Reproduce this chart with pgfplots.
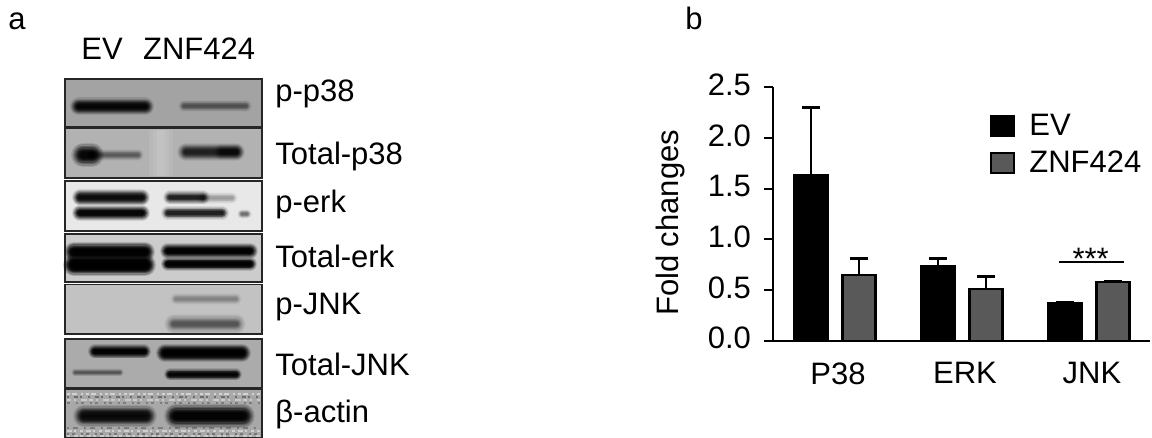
\documentclass[border=0pt]{standalone}
\usepackage{fontspec}
\setmainfont{Liberation Sans}
\usepackage{pgfplots}
\usepackage{pgfplotstable}
\pgfplotsset{compat=1.18}

% 1 px of the reference = 0.5pt
\newcommand{\lab}[3]{\node[anchor=base west,inner sep=0pt] at (axis cs:#1,#2) {#3};}
% blot panel: top, bottom, background
\newcommand{\panel}[3]{\addplot[draw=black!85,line width=0.9pt,fill=#3,forget plot] coordinates {(65,#1)(261.7,#1)(261.7,#2)(65,#2)} --cycle;}
% one layer of a band
\newcommand{\blayer}[6]{\addplot[black,opacity=#5,line cap=round,line width=#4*#6pt,forget plot] coordinates {(#1,#3)(#2,#3)};}
% fuzzy band: x1, x2, y, thickness, opacity
\newcommand{\band}[5]{%
  \blayer{#1}{#2}{#3}{#4}{#5*0.2}{1.0}
  \blayer{#1}{#2}{#3}{#4}{#5*0.3}{0.88}
  \blayer{#1}{#2}{#3}{#4}{#5*0.45}{0.76}
  \blayer{#1}{#2}{#3}{#4}{#5*0.6}{0.64}
  \blayer{#1}{#2}{#3}{#4}{#5*0.75}{0.52}
  \blayer{#1}{#2}{#3}{#4}{#5*0.8}{0.42}
  \blayer{#1}{#2}{#3}{#4}{#5*0.8}{0.32}
  \blayer{#1}{#2}{#3}{#4}{#5*0.8}{0.22}
}
% speckle row of the loading control: y, colour, opacity, pattern
\newcommand{\speck}[4]{\addplot[#2,opacity=#3,line width=1pt,dash pattern=#4,forget plot] coordinates {(67,#1)(260,#1)};}

\pgfplotsset{
  swatch/.style={legend image code/.code={
    \draw[##1] (0.5pt,-5pt) rectangle (12pt,5pt);
    \path[draw=none,fill=none] (0pt,0pt) rectangle (17.6pt,0.1pt);}},
  barplot/.style={ybar,bar width=16.4pt,line width=1.15pt,
    error bars/y dir=plus,error bars/y explicit,
    error bars/error bar style={black,line width=1.3pt,xshift=#1},
    error bars/error mark options={rotate=90,black,mark size=4.5pt,line width=1.3pt},
    bar shift=#1},
}

\pgfplotstableread{
x val err
0 1.635 0.665
1 0.74 0.07
2 0.37 0.005
}\evdata
\pgfplotstableread{
x val err
0 0.65 0.16
1 0.51 0.125
2 0.58 0.005
}\znfdata

\begin{document}
\begin{tikzpicture}[x=0.5pt,y=0.5pt,font=\fontsize{15.5}{18}\selectfont]
\path[use as bounding box] (0,0) rectangle (1152,438);

% panel a, and the texts, in reference pixels
\begin{axis}[
  at={(0pt,0pt)},anchor=south west,scale only axis,
  width=576pt,height=219pt,
  xmin=0,xmax=1152,ymin=0,ymax=438,y dir=reverse,
  hide axis,clip=false
]
\panel{78.7}{127.3}{black!36}
\panel{128.5}{178}{black!30}
\panel{181}{230.7}{black!9}
\panel{234}{282}{black!20}
\panel{284.5}{334}{black!24}
\panel{338.7}{388}{black!33}
\panel{389}{438}{black!34}
% lighter gutter between the lanes
\addplot[white,opacity=0.08,line width=12pt,forget plot] coordinates {(161,130)(161,176)};
\addplot[white,opacity=0.08,line width=8pt,forget plot] coordinates {(161,130)(161,176)};
\addplot[white,opacity=0.08,line width=4pt,forget plot] coordinates {(161,130)(161,176)};
% p-p38
\band{79}{145}{106.5}{9}{0.55}
\band{184}{246}{106}{6}{0.14}
% total-p38
\band{83}{92}{155}{12}{0.55}
\band{93}{138}{155}{6}{0.13}
\band{186}{236}{152}{9}{0.32}
\band{222}{236}{152}{8}{0.2}
% p-erk
\band{80}{142}{197.5}{8}{0.5}
\band{80}{142}{213}{8}{0.55}
\band{170}{203}{197.5}{7}{0.35}
\band{203}{232}{198}{6}{0.08}
\band{168}{222}{213}{7}{0.35}
\band{242}{247}{214}{5}{0.14}
% total-erk
\band{74}{145}{252}{10}{0.75}
\band{74}{145}{265}{11}{0.85}
\band{168}{250}{251}{8}{0.65}
\band{168}{250}{264}{7}{0.65}
% p-JNK
\band{176}{236}{299}{6}{0.08}
\band{174}{236}{324}{10}{0.16}
% total-JNK
\band{95}{144}{351.5}{7}{0.65}
\band{75}{120}{372.5}{4}{0.14}
\band{165}{242}{353}{9}{0.7}
\band{170}{236}{374.5}{6}{0.55}
% beta-actin
\speck{394}{white}{0.5}{on 1.5pt off 1pt on 2.5pt off 2pt on 1pt off 1.5pt}
\speck{397}{black}{0.35}{on 1pt off 2.5pt on 2pt off 1pt on 1pt off 3pt}
\speck{400}{white}{0.4}{on 2pt off 1.5pt on 1pt off 2.5pt on 3pt off 1pt}
\speck{403}{black}{0.25}{on 1.5pt off 3pt on 1pt off 1.5pt}
\speck{428}{black}{0.25}{on 1pt off 2pt on 2.5pt off 3pt}
\speck{431}{white}{0.45}{on 2.5pt off 1pt on 1pt off 2pt on 1.5pt off 1.5pt}
\speck{434}{black}{0.3}{on 1pt off 1.5pt on 1.5pt off 3pt}
\speck{436}{white}{0.4}{on 1.5pt off 2pt on 2pt off 1pt}
\band{84}{146}{416}{11}{0.5}
\band{176}{243}{416}{12}{0.6}
% labels
\lab{8}{30}{a}
\lab{685}{30}{b}
\lab{81}{60}{EV}
\lab{142.7}{60}{ZNF424}
\lab{275}{101.5}{p-p38}
\lab{275}{165}{Total-p38}
\lab{275}{212.7}{p-erk}
\lab{275}{267.7}{Total-erk}
\lab{275}{315}{p-JNK}
\lab{275}{376}{Total-JNK}
\lab{275}{422.7}{β-actin}
\node[anchor=base,inner sep=0pt] at (axis cs:1090.7,270) {***};
\end{axis}

% panel b
\begin{axis}[
  at={(386.35pt,48.65pt)},anchor=south west,scale only axis,
  width=188.65pt,height=126.7pt,
  xmin=-0.49,xmax=2.48,ymin=0,ymax=2.5,
  axis x line=bottom,axis y line=left,
  axis line style={-,line width=1.15pt},
  xtick={0,1,2},xticklabels={P38,ERK,JNK},
  x tick style={draw=none},
  xticklabel style={yshift=-3pt,xshift=1.5pt},
  ytick={0,0.5,1,1.5,2,2.5},
  y tick style={black,line width=1.15pt},
  tick align=outside,major tick length=4.35pt,
  yticklabel style={/pgf/number format/fixed,/pgf/number format/fixed zerofill,/pgf/number format/precision=1,/pgf/number format/assume math mode=true,xshift=-3pt,yshift=1.3pt},
  ylabel={Fold changes},
  ylabel style={at={(axis description cs:-0.251,0.465)},anchor=base},
  legend style={at={(0.576,0.91)},anchor=north west,draw=none,fill=none,inner sep=0pt,outer sep=0pt,row sep=2pt},
  legend cell align=left
]
\addplot[swatch,barplot=-12pt,fill=black,draw=black] table[x=x,y=val,y error=err] {\evdata};
\addplot[swatch,barplot=12pt,fill=black!65,draw=black] table[x=x,y=val,y error=err] {\znfdata};
\addplot[black,line width=1.25pt,forget plot] coordinates {(1.764,0.776)(2.276,0.776)};
\legend{EV,ZNF424}
\end{axis}
\end{tikzpicture}
\end{document}
